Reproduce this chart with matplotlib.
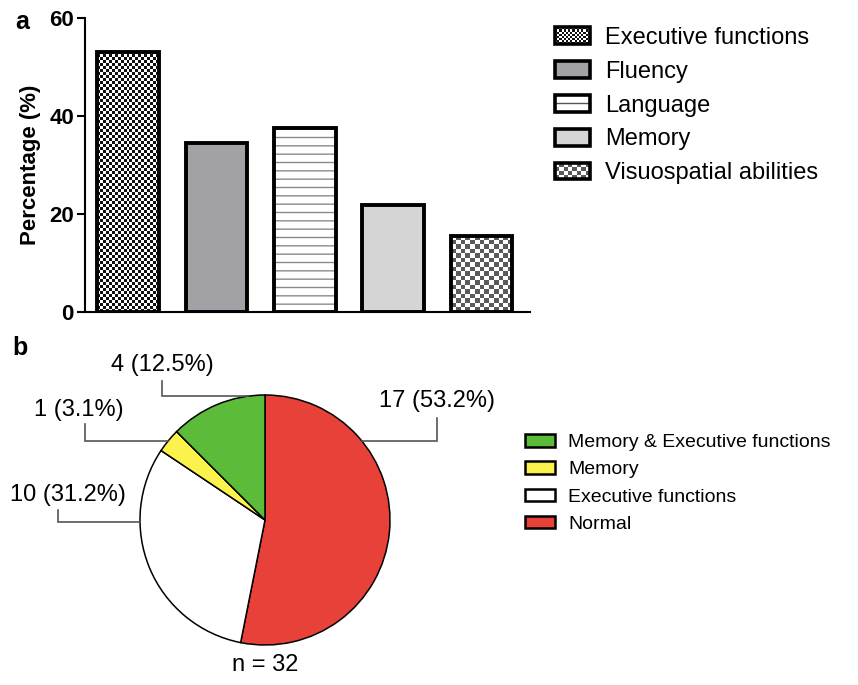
import numpy as np
import matplotlib
matplotlib.use('Agg')
import matplotlib.pyplot as plt
from matplotlib.patches import Rectangle, Patch
from matplotlib.lines import Line2D
from matplotlib.colors import ListedColormap
from matplotlib.legend_handler import HandlerBase

plt.rcParams['font.family'] = ['Liberation Sans', 'DejaVu Sans']
plt.rcParams['hatch.linewidth'] = 1.0

# ---------------- data ----------------
domains = ['Executive functions', 'Fluency', 'Language', 'Memory', 'Visuospatial abilities']
percentages = [53.1, 34.4, 37.5, 21.9, 15.6]
y_ticks = [0, 20, 40, 60]

pie_categories = ['Memory & Executive functions', 'Memory', 'Executive functions', 'Normal']
pie_counts = [4, 1, 10, 17]
pie_labels = ['4 (12.5%)', '1 (3.1%)', '10 (31.2%)', '17 (53.2%)']
n_total = 32

# ---------------- styles ----------------
bar_face = ['white', '#A2A2A6', 'white', '#D5D5D5', 'white']
pie_colors = ['#5DBB3A', '#FBF34C', 'white', '#E8413A']
# leader geometry per label: (edge angle deg, elbow x, vertical end y, text y) in pie radius units
leader = {
    '4 (12.5%)': (98, -0.824, 1.112, 1.24),
    '1 (3.1%)': (141, -1.44, 0.768, 0.88),
    '10 (31.2%)': (181, -1.656, 0.08, 0.20),
    '17 (53.2%)': (39, 1.376, 0.816, 0.955),
}
text_offset_x = {'4 (12.5%)': 0.0, '1 (3.1%)': -0.05, '10 (31.2%)': 0.08, '17 (53.2%)': 0.0}

W, H = 858, 685
fig = plt.figure(figsize=(W / 100, H / 100), dpi=100)

# ---------------- panel a: bars ----------------
ax1 = fig.add_axes([85 / W, 1 - 312 / H, (530 - 85) / W, (312 - 18) / H])
x = np.arange(len(domains))
bars = ax1.bar(x, percentages, width=0.7, color=bar_face, edgecolor='none', zorder=1)
ax1.set_xlim(-0.49, 4.55)
ax1.set_ylim(0, 60)

# language stripes
ax1.bar(x[2], percentages[2], width=0.7, facecolor='none', edgecolor='#8A8A8A',
        hatch='--', linewidth=0, zorder=2)

# checkerboard textures clipped to bars
fig.canvas.draw()
px_per_x = ax1.transData.transform((1, 0))[0] - ax1.transData.transform((0, 0))[0]
px_per_y = ax1.transData.transform((0, 1))[1] - ax1.transData.transform((0, 0))[1]
textures = {0: (3.0, '#111111', 'white'), 4: (4.6, '#5A5A5A', 'white')}
for i, (cell, dark, light) in textures.items():
    rect = bars[i]
    bw = rect.get_width()
    bh = rect.get_height()
    nx = max(1, int(round(bw * px_per_x / cell)))
    ny = max(1, int(round(bh * px_per_y / cell)))
    board = np.add.outer(np.arange(ny), np.arange(nx)) % 2
    im = ax1.imshow(board, cmap=ListedColormap([light, dark]), origin='lower',
                    extent=[rect.get_x(), rect.get_x() + bw, 0, bh],
                    interpolation='nearest', aspect='auto', zorder=2)
    im.set_clip_path(rect)
ax1.set_xlim(-0.49, 4.55)
ax1.set_ylim(0, 60)

# outlines
ax1.bar(x, percentages, width=0.7, fill=False, edgecolor='black', linewidth=2.8, zorder=3)

for s in ['top', 'right']:
    ax1.spines[s].set_visible(False)
ax1.spines['left'].set_linewidth(1.5)
ax1.spines['bottom'].set_linewidth(1.5)
ax1.spines['bottom'].set_zorder(4)
ax1.set_xticks([])
ax1.set_yticks(y_ticks)
ax1.set_yticklabels([str(t) for t in y_ticks], fontsize=16, fontweight='bold')
ax1.tick_params(axis='y', length=6, width=1.5, pad=2)
ax1.set_ylabel('Percentage (%)', fontsize=16, fontweight='bold', labelpad=6)


class CheckerHandler(HandlerBase):
    def __init__(self, cell, dark, light):
        super().__init__()
        self.cell, self.dark, self.light = cell, dark, light

    def create_artists(self, legend, orig_handle, xdescent, ydescent, width, height, fontsize, trans):
        x0, y0 = -xdescent, -ydescent
        arts = [Rectangle((x0, y0), width, height, facecolor=self.light, edgecolor='none', transform=trans)]
        nx = int(round(width / self.cell))
        ny = int(round(height / self.cell))
        cw, ch = width / nx, height / ny
        for i in range(nx):
            for j in range(ny):
                if (i + j) % 2 == 0:
                    arts.append(Rectangle((x0 + i * cw, y0 + j * ch), cw, ch, facecolor=self.dark,
                                          edgecolor='none', transform=trans))
        arts.append(Rectangle((x0, y0), width, height, fill=False, edgecolor='black',
                              linewidth=2.6, transform=trans))
        return arts


class StripeHandler(HandlerBase):
    def create_artists(self, legend, orig_handle, xdescent, ydescent, width, height, fontsize, trans):
        x0, y0 = -xdescent, -ydescent
        return [Rectangle((x0, y0), width, height, facecolor='white', edgecolor='none', transform=trans),
                Line2D([x0, x0 + width], [y0 + height / 2] * 2, color='#555555', linewidth=1.0,
                       transform=trans),
                Rectangle((x0, y0), width, height, fill=False, edgecolor='black', linewidth=2.6,
                          transform=trans)]


h_exec = Patch(facecolor='white', edgecolor='black')
h_flu = Patch(facecolor=bar_face[1], edgecolor='black', linewidth=2.6)
h_lang = Patch(facecolor='white', edgecolor='black', linewidth=2.6)
h_mem = Patch(facecolor=bar_face[3], edgecolor='black', linewidth=2.6)
h_vis = Patch(facecolor='white', edgecolor='black')
leg1 = fig.legend([h_exec, h_flu, h_lang, h_mem, h_vis], domains,
                  loc='upper left', bbox_to_anchor=(555 / W, 1 - 27 / H),
                  frameon=False, fontsize=17, borderpad=0, borderaxespad=0,
                  handlelength=1.48, handleheight=0.72, handletextpad=0.64, labelspacing=0.5,
                  handler_map={h_exec: CheckerHandler(1.6, '#111111', 'white'),
                               h_lang: StripeHandler(),
                               h_vis: CheckerHandler(3.0, '#5A5A5A', 'white')})

fig.text(15 / W, 1 - 22 / H, 'a', fontsize=18, fontweight='bold', ha='left', va='center')

# ---------------- panel b: pie ----------------
R_PX = 125.0
cx, cy = 265.0, 520.0
ax2 = fig.add_axes([0, 0, 520 / W, 350 / H])
ax2.set_xlim((0 - cx) / R_PX, (520 - cx) / R_PX)
ax2.set_ylim((cy - 685) / R_PX, (cy - 335) / R_PX)
ax2.axis('off')
wedges, _ = ax2.pie(pie_counts[::-1], colors=pie_colors[::-1], startangle=90, counterclock=False,
                    radius=1.0, wedgeprops=dict(edgecolor='black', linewidth=1.1))
ax2.set_xlim((0 - cx) / R_PX, (520 - cx) / R_PX)
ax2.set_ylim((cy - 685) / R_PX, (cy - 335) / R_PX)
ax2.set_aspect('auto')

for lab in pie_labels:
    ang, ex, vy, ty = leader[lab]
    px, py = np.cos(np.radians(ang)), np.sin(np.radians(ang))
    ax2.plot([px, ex, ex], [py, py, vy], color='#555555', linewidth=1.2, solid_joinstyle='miter')
    ax2.text(ex + text_offset_x[lab], ty, lab, fontsize=17, ha='center', va='center')

ax2.text(0, -1.16, f'n = {n_total}', fontsize=17, ha='center', va='center')

pie_handles = [Patch(facecolor=c, edgecolor='black', linewidth=1.8) for c in pie_colors]
fig.legend(pie_handles, pie_categories, loc='upper left', bbox_to_anchor=(525 / W, 1 - 434 / H),
           frameon=False, fontsize=14, borderpad=0, borderaxespad=0,
           handlelength=1.54, handleheight=0.62, handletextpad=0.67, labelspacing=0.52)

fig.text(12 / W, 1 - 348 / H, 'b', fontsize=18, fontweight='bold', ha='left', va='center')

fig.savefig('out.png', dpi=100)
